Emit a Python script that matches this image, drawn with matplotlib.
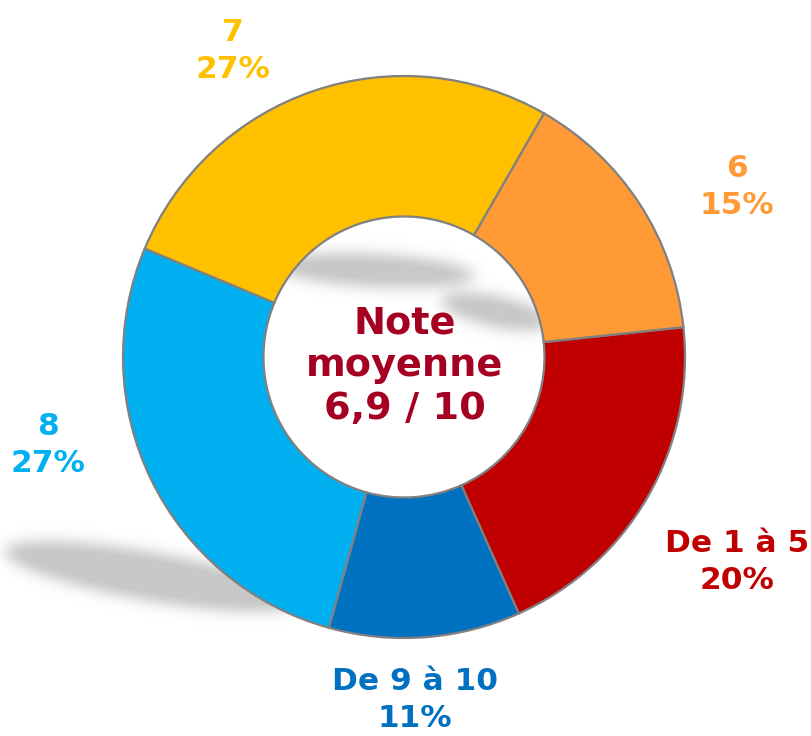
import numpy as np
import matplotlib
matplotlib.use("Agg")
import matplotlib.pyplot as plt

# ---- data ----
categories = ["De 1 à 5", "De 9 à 10", "8", "7", "6"]
values = [20, 11, 27, 27, 15]
pct_labels = ["20%", "11%", "27%", "27%", "15%"]
colors = ["#C00000", "#0070C0", "#00B0F0", "#FFC000", "#FF9A36"]
center_text = "Note\nmoyenne\n6,9 / 10"

W, H = 812, 736
fig = plt.figure(figsize=(W / 100, H / 100), dpi=100)
ax = fig.add_axes([0, 0, 1, 1])

# ---- decorative blurred shadows ----
yy, xx = np.mgrid[0:H, 0:W]
def ell(cx, cy, a, b, ang):
    t = np.deg2rad(ang)
    dx, dy = xx - cx, yy - cy
    u = dx * np.cos(t) + dy * np.sin(t)
    v = -dx * np.sin(t) + dy * np.cos(t)
    return ((u / a) ** 2 + (v / b) ** 2 <= 1).astype(float)

mask = np.zeros((H, W))
mask = np.maximum(mask, ell(150, 576, 148, 24, 10))
mask = np.maximum(mask, ell(374, 270, 100, 16, 3))
mask = np.maximum(mask, ell(495, 311, 55, 15, 12))

def blur(img, s):
    k = np.arange(-3 * s, 3 * s + 1)
    g = np.exp(-k ** 2 / (2 * s * s)); g /= g.sum()
    img = np.apply_along_axis(lambda r: np.convolve(r, g, mode="same"), 1, img)
    img = np.apply_along_axis(lambda c: np.convolve(c, g, mode="same"), 0, img)
    return img

alpha = np.clip(blur(mask, 7) * 1.1, 0, 1)
rgba = np.zeros((H, W, 4))
rgba[..., :3] = 200 / 255
rgba[..., 3] = alpha
ax.imshow(rgba, extent=(0, W, 0, H), origin="upper", zorder=0, interpolation="bilinear")

# ---- donut ----
cx, cy = 404, H - 357
R = 281
ax.pie(values, colors=colors, startangle=6.1, counterclock=False,
       center=(cx, cy), radius=R,
       wedgeprops=dict(width=R * 0.5, edgecolor="#808080", linewidth=1.6))

ax.text(cx + 1, H - 366, center_text, ha="center", va="center", color="#A50021",
        fontsize=27.5, fontweight="bold", linespacing=1.24, zorder=5)

# ---- labels (pixel positions, top-left origin) ----
label_pos = [(737, 562), (415, 700), (48, 445), (233, 51), (737, 187)]
for cat, p, col, (px, py) in zip(categories, pct_labels, colors, label_pos):
    ax.text(px, H - py, f"{cat}\n{p}", ha="center", va="center", color=col,
            fontsize=22.5, fontweight="bold", linespacing=1.36, zorder=5)

ax.set_xlim(0, W)
ax.set_ylim(0, H)
ax.set_aspect("equal")
ax.axis("off")
fig.savefig("out.png", dpi=100, facecolor="white")
